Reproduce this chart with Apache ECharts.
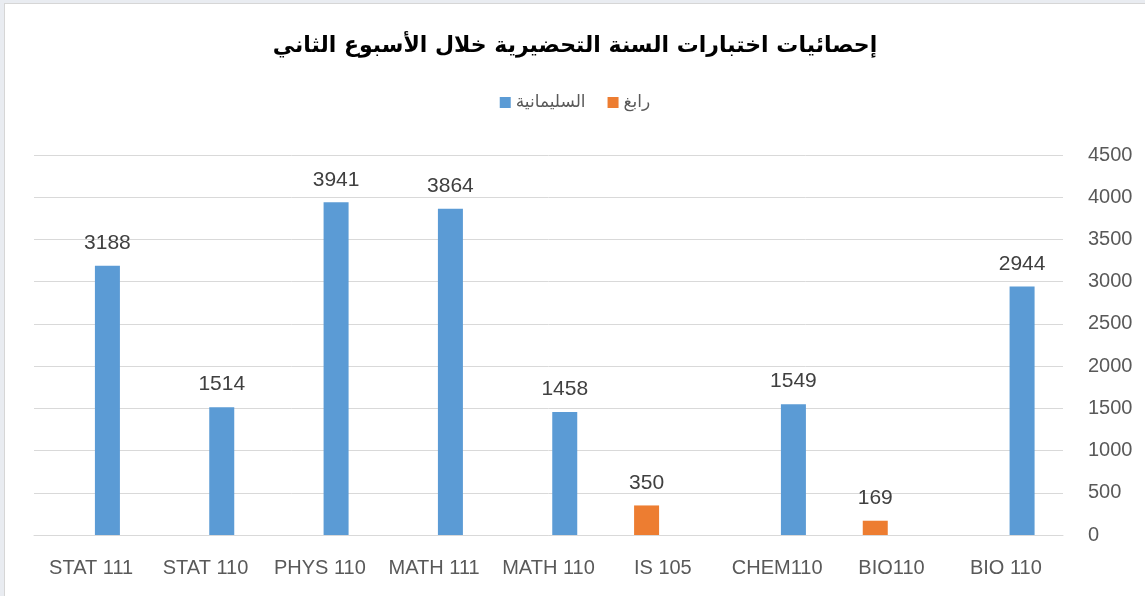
<!DOCTYPE html>
<html lang="ar">
<head>
    <meta charset="UTF-8">
    <title>Chart</title>
    <style>
        html, body{
            margin: 0;
            padding: 0;
            background: #e9ecf1;
        }
        #main{
            position: absolute;
            left: 4px;
            top: 3px;
            width: 1140px;
            height: 592px;
            background: #fff;
            border: 1px solid #d6d6d6;
        }
    </style>
    <script src="https://cdn.jsdelivr.net/npm/echarts@6/dist/echarts.min.js"></script>
</head>
<body>
<div id="main"></div>
<script>
// categories along the x axis
var courses = ['STAT 111', 'STAT 110', 'PHYS 110', 'MATH 111', 'MATH 110', 'IS 105', 'CHEM110', 'BIO110', 'BIO 110'];
// series values ('-' = no bar)
var rabigh = ['-', '-', '-', '-', '-', 350, '-', 169, '-'];
var sulaimaniyah = [3188, 1514, 3941, 3864, 1458, '-', 1549, '-', 2944];
var seriesNames = ['رابغ', 'السليمانية'];
var legendOrder = ['السليمانية', 'رابغ'];
var chartTitle = 'إحصائيات اختبارات السنة التحضيرية خلال الأسبوع الثاني';

var myChart = echarts.init(document.getElementById('main'));

var barLabel = {
    show: true,
    position: 'top',
    distance: 12,
    fontSize: 21,
    color: '#404040',
    fontFamily: 'Liberation Sans'
};

var option = {
    animation: false,
    title: {
        text: chartTitle,
        left: 'center',
        top: 26,
        textStyle: {
            fontSize: 22,
            fontWeight: 'bold',
            color: '#000',
            fontFamily: 'DejaVu Sans'
        }
    },
    legend: {
        data: legendOrder,
        top: 85,
        left: 'center',
        itemWidth: 11,
        itemHeight: 11,
        itemGap: 22,
        icon: 'rect',
        textStyle: {
            fontSize: 17,
            color: '#595959',
            fontFamily: 'DejaVu Sans'
        }
    },
    grid: { left: 29, right: 82, top: 151, bottom: 61 },
    xAxis: {
        type: 'category',
        data: courses,
        axisTick: { show: false },
        axisLine: { lineStyle: { color: '#d9d9d9', width: 1 } },
        axisLabel: {
            fontSize: 20,
            color: '#595959',
            margin: 23,
            interval: 0,
            fontFamily: 'Liberation Sans'
        }
    },
    yAxis: {
        type: 'value',
        position: 'right',
        min: 0,
        max: 4500,
        interval: 500,
        axisLine: { show: false },
        axisTick: { show: false },
        splitLine: { lineStyle: { color: '#d9d9d9', width: 1 } },
        axisLabel: {
            fontSize: 20,
            color: '#595959',
            margin: 25,
            fontFamily: 'Liberation Sans',
            formatter: function (v) { return String(v); }
        }
    },
    series: [
        {
            name: seriesNames[0],
            type: 'bar',
            data: rabigh,
            barWidth: 25,
            barGap: '30%',
            itemStyle: { color: '#ed7d31' },
            label: barLabel
        },
        {
            name: seriesNames[1],
            type: 'bar',
            data: sulaimaniyah,
            barWidth: 25,
            barGap: '30%',
            itemStyle: { color: '#5b9bd5' },
            label: barLabel
        }
    ]
};

myChart.setOption(option);
</script>
</body>
</html>
